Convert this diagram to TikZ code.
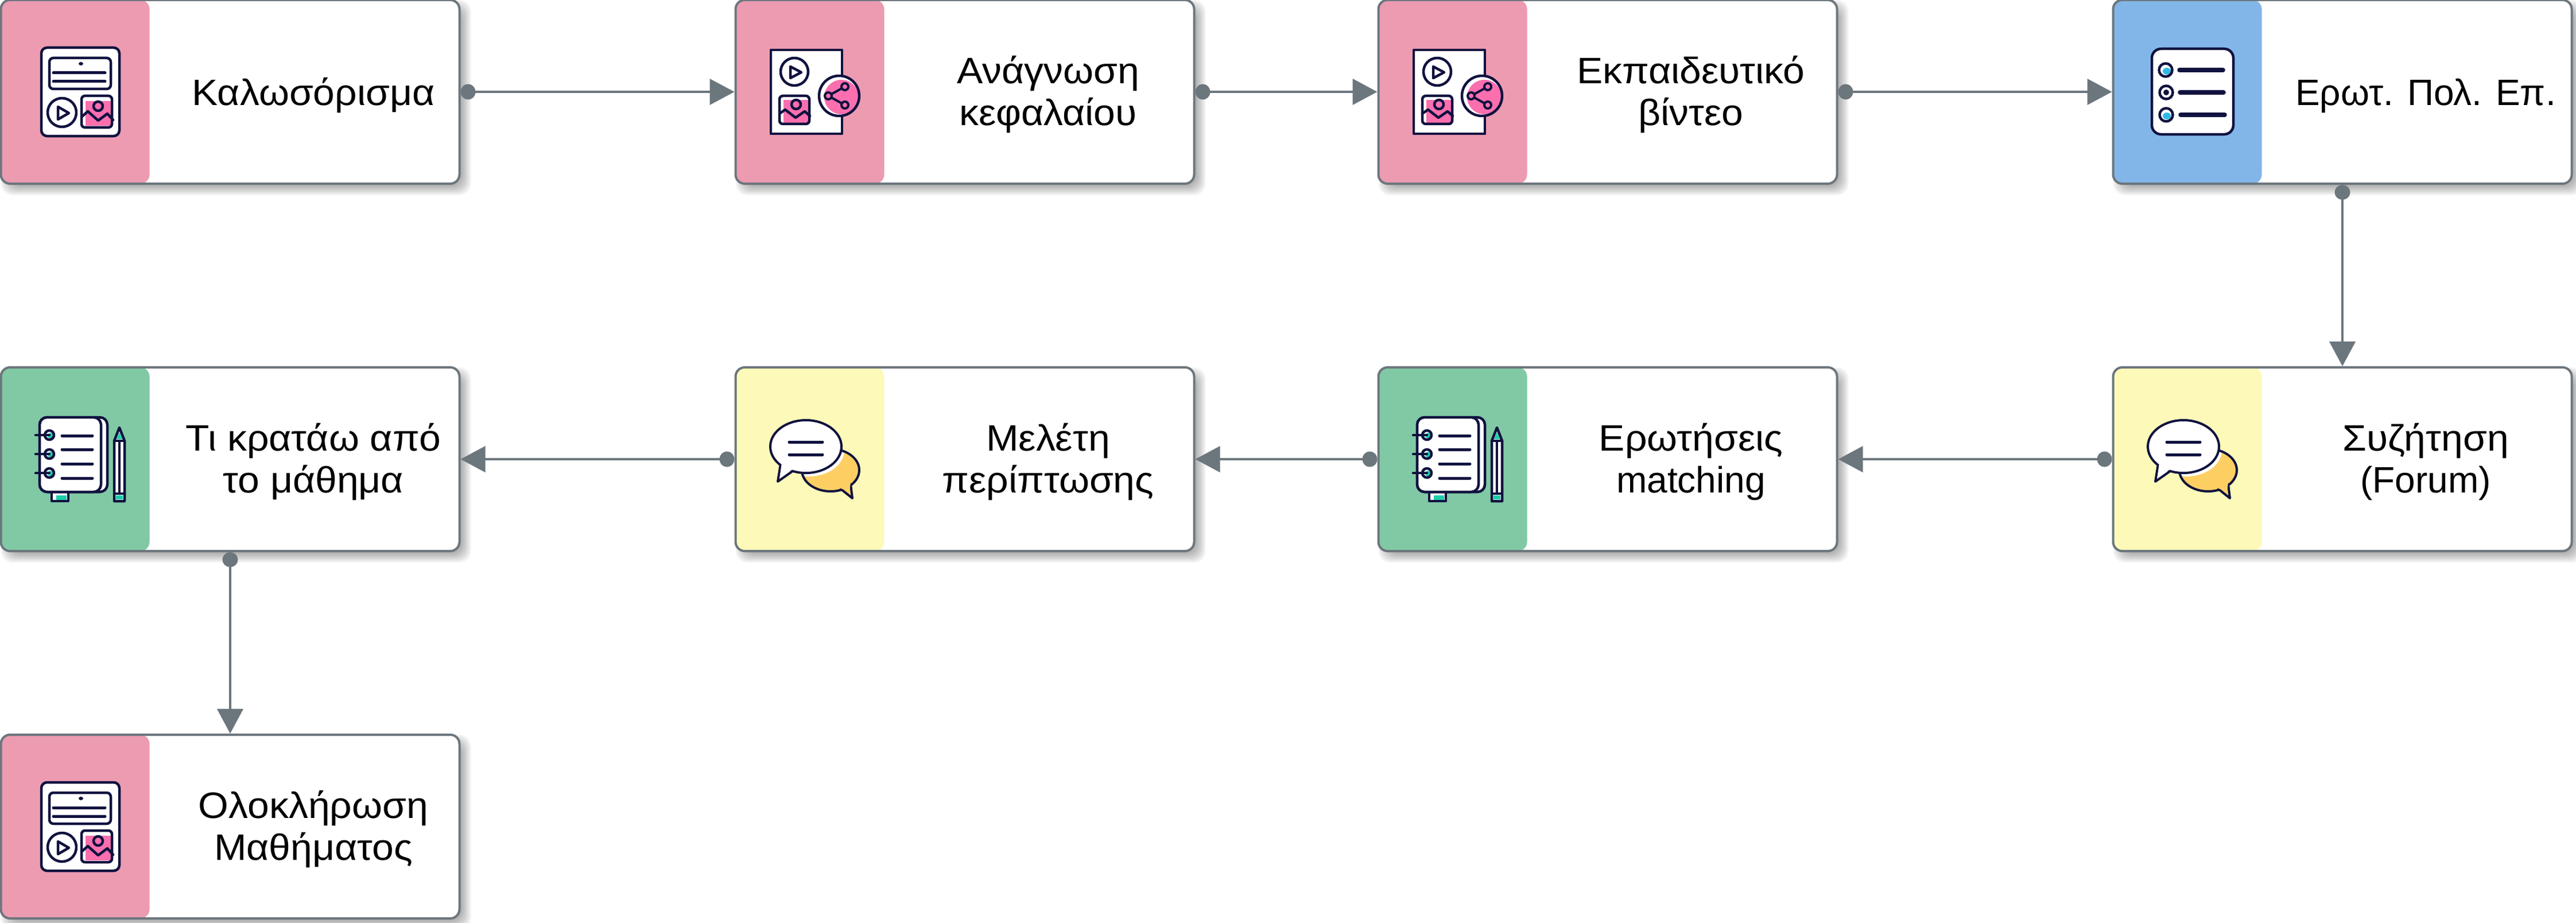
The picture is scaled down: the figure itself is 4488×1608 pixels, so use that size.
\documentclass[tikz,border=0pt]{standalone}
\usepackage{fontspec}
\setmainfont{Liberation Sans}
\newfontfamily\greekwide[FakeStretch=1.06]{Liberation Sans}
\usetikzlibrary{arrows.meta,backgrounds}

\definecolor{slateline}{HTML}{6C767D}
\definecolor{inkblue}{HTML}{10123F}
\definecolor{bandpink}{HTML}{EC9BB1}
\definecolor{bandblue}{HTML}{82B6E9}
\definecolor{bandyellow}{HTML}{FDFAB9}
\definecolor{bandgreen}{HTML}{80C9A4}
\definecolor{hotpink}{HTML}{FB6FAE}
\definecolor{skycyan}{HTML}{2FB9E8}
\definecolor{mintteal}{HTML}{1CCFAB}
\definecolor{softorange}{HTML}{FDCF63}

\tikzset{
  icon/.style={draw=inkblue,line width=4.5pt,line join=round,line cap=round},
  media icon/.pic={
    \draw[icon,fill=white,rounded corners=10pt] (-68,-77) rectangle (68,77);
    \draw[icon,rounded corners=7pt] (-54,-59) rectangle (53,-5);
    \fill[inkblue] (1,-49) ellipse [x radius=4,y radius=3];
    \draw[icon,line width=5pt] (-47,-33) -- (43,-33);
    \draw[icon,line width=5pt] (-47,-18) -- (43,-18);
    \draw[icon] (-32,36) circle (25);
    \draw[icon] (-39,26) -- (-20,37) -- (-39,48) -- cycle;
    \fill[hotpink] (9,16) rectangle (53,59);
    \draw[icon,rounded corners=6pt] (2,7) rectangle (55,62);
    \draw[icon] (31,25) circle (8);
    \draw[icon] (3,43) -- (13,34) -- (31,50) -- (47,38) -- (57,49);
  },
  share icon/.pic={
    \draw[icon,fill=white] (-77,-73) rectangle (47,73);
    \draw[icon] (-36,-35) circle (24);
    \draw[icon] (-43,-44) -- (-24,-34) -- (-43,-24) -- cycle;
    \fill[hotpink] (-55,14) rectangle (-11,54);
    \draw[icon,rounded corners=6pt] (-62,7) rectangle (-10,56);
    \draw[icon] (-33,22) circle (8);
    \draw[icon] (-62,38) -- (-52,31) -- (-34,45) -- (-18,34) -- (-9,42);
    \fill[white] (42,7) circle (35);
    \fill[hotpink] (46,9) circle (30);
    \draw[icon] (42,7) circle (35);
    \draw[icon,line width=4pt] (52,-9) -- (23,7) -- (52,23);
    \draw[icon,line width=4pt,fill=hotpink] (23,7) circle (6);
    \draw[icon,line width=4pt,fill=hotpink] (52,-9) circle (6);
    \draw[icon,line width=4pt,fill=hotpink] (52,23) circle (6);
  },
  quiz icon/.pic={
    \draw[icon,fill=white,rounded corners=16pt] (-81,-75) rectangle (61,74);
    \fill[skycyan] (-55,-36) ellipse [x radius=7,y radius=6];
    \fill[skycyan] (-55,42) ellipse [x radius=7,y radius=6];
    \draw[icon] (-57,-38) circle (11.5);
    \draw[icon] (-56,1) circle (11.5);
    \draw[icon] (-56,40) circle (11.5);
    \fill[inkblue] (-56,1) circle (5);
    \draw[icon,line width=7.5pt] (-33,-38) -- (43,-38);
    \draw[icon,line width=7.5pt] (-32,1) -- (44,1);
    \draw[icon,line width=7.5pt] (-31,40) -- (46,40);
  },
  notes icon/.pic={
    \draw[icon,fill=white] (-50,57) rectangle (-21,73);
    \fill[mintteal] (-42,63) rectangle (-24,71);
    \draw[icon,fill=white,rounded corners=13pt] (-71,-73) rectangle (47,57);
    \draw[icon,fill=white,rounded corners=13pt] (-71,-73) rectangle (36,57);
    \foreach \ringy in {-42,-9,24} {
      \fill[mintteal] (-52,\ringy+1) circle (5);
      \draw[icon] (-54,\ringy) circle (8);
      \draw[icon] (-78,\ringy) -- (-54,\ringy);
    }
    \foreach \rowy in {-41,-17,8,33}
      \draw[icon,line width=5pt] (-32,\rowy) -- (21,\rowy);
    \draw[icon,fill=white] (59,-32) -- (68,-55) -- (77,-32) -- (77,73) -- (59,73) -- cycle;
    \fill[mintteal] (63,-35) -- (68,-47) -- (73,-35) -- cycle;
    \draw[icon] (59,-32) -- (77,-32);
    \draw[icon] (68,-32) -- (68,60);
    \draw[icon] (59,60) -- (77,60);
    \fill[mintteal] (62,63) rectangle (74,70);
  },
  forum icon/.pic={
    \fill[softorange] (27,19) ellipse [x radius=50,y radius=37];
    \begin{scope}
      \clip (27,19) ellipse [x radius=50,y radius=37];
      \fill[white] (-11,-16) ellipse [x radius=62,y radius=46];
    \end{scope}
    \draw[icon,line width=4pt] (27,19) ellipse [x radius=50,y radius=37];
    \draw[icon,line width=4pt,fill=softorange] (45,52) -- (65,68) -- (62,44);
    \fill[softorange] (42,50) -- (62,40) -- (60,56) -- cycle;
    \draw[icon,line width=4pt,fill=white] (-60,8) -- (-65,39) -- (-38,20);
    \draw[icon,line width=4pt,fill=white] (-16,-22) ellipse [x radius=62,y radius=46];
    \fill[white] (-58,5) -- (-61,31) -- (-36,16) -- cycle;
    \draw[icon,line width=5pt] (-45,-30) -- (13,-30);
    \draw[icon,line width=5pt] (-45,-8) -- (13,-8);
  }
}

\begin{document}
\begin{tikzpicture}[x=1pt,y=-1pt,node distance=1280pt,
  main node/.style={rectangle,rounded corners=16pt,draw=slateline,line width=4pt,
    fill=white,inner sep=0pt,minimum width=799pt,minimum height=320pt},
  band/.style={path picture={\fill[#1] (path picture bounding box.north west)
    rectangle ([xshift=259pt]path picture bounding box.south west);}},
  caption node/.style={font=\greekwide\fontsize{64}{73.6}\selectfont,align=center,inner sep=0pt,
    execute at begin node=\strut,execute at end node=\strut},
  flow/.style={draw=slateline,line width=4pt,
    {Circle[length=26pt,width=27pt]}-{Triangle[length=43pt,width=45pt]}}]

  \useasboundingbox (0,0) rectangle (4488,1608);

  \node[main node,band=bandpink] (1) at (401,160) {};
  \node[main node,band=bandpink] (2) [right of=1] {};
  \node[main node,band=bandpink] (3) [right of=2,node distance=1120pt] {};
  \node[main node,band=bandblue] (4) [right of=3] {};
  \node[main node,band=bandyellow] (5) [below of=4,node distance=640pt] {};
  \node[main node,band=bandgreen] (6) [left of=5] {};
  \node[main node,band=bandyellow] (7) [left of=6,node distance=1120pt] {};
  \node[main node,band=bandgreen] (8) [left of=7] {};
  \node[main node,band=bandpink] (9) [below of=8,node distance=640pt] {};

  \begin{pgfonlayer}{background}
    \foreach \n in {1,...,9}
      \foreach \g in {-8,-6,...,8}
        \fill[black,opacity=0.04,rounded corners=20pt]
          ([shift={(10-\g,10-\g)}]\n.north west) rectangle ([shift={(10+\g,10+\g)}]\n.south east);
  \end{pgfonlayer}

  \pic at ([xshift=-261pt]1.center) {media icon};
  \pic at ([xshift=-261pt]2.center) {share icon};
  \pic at ([xshift=-261pt]3.center) {share icon};
  \pic at ([xshift=-251pt]4.center) {quiz icon};
  \pic at ([xshift=-261pt]5.center) {forum icon};
  \pic at ([xshift=-261pt]6.center) {notes icon};
  \pic at ([xshift=-261pt]7.center) {forum icon};
  \pic at ([xshift=-261pt]8.center) {notes icon};
  \pic at ([xshift=-261pt]9.center) {media icon};

  \node[caption node] (t1) at ([shift={(145,9)}]1.center) {Καλωσόρισμα};
  \node[caption node] (t2) at ([shift={(145,9)}]2.center) {Ανάγνωση\\κεφαλαίου};
  \node[caption node] (t3) at ([shift={(145,9)}]3.center) {Εκπαιδευτικό\\βίντεο};
  \node[caption node] (t4) at ([shift={(145,9)}]4.center) {\rmfamily Ερωτ. Πολ. Επ.};
  \node[caption node] (t5) at ([shift={(145,9)}]5.center) {Συζήτηση\\\rmfamily (Forum)};
  \node[caption node] (t6) at ([shift={(145,9)}]6.center) {Ερωτήσεις\\\rmfamily matching};
  \node[caption node] (t7) at ([shift={(145,9)}]7.center) {Μελέτη\\περίπτωσης};
  \node[caption node] (t8) at ([shift={(145,9)}]8.center) {Τι κρατάω από\\το μάθημα};
  \node[caption node] (t9) at ([shift={(145,9)}]9.center) {Ολοκλήρωση\\Μαθήματος};

  \path
    (1) edge[flow] (2)
    (2) edge[flow] (3)
    (3) edge[flow] (4)
    (4) edge[flow] (5)
    (5) edge[flow] (6)
    (6) edge[flow] (7)
    (7) edge[flow] (8)
    (8) edge[flow] (9);
\end{tikzpicture}
\end{document}
